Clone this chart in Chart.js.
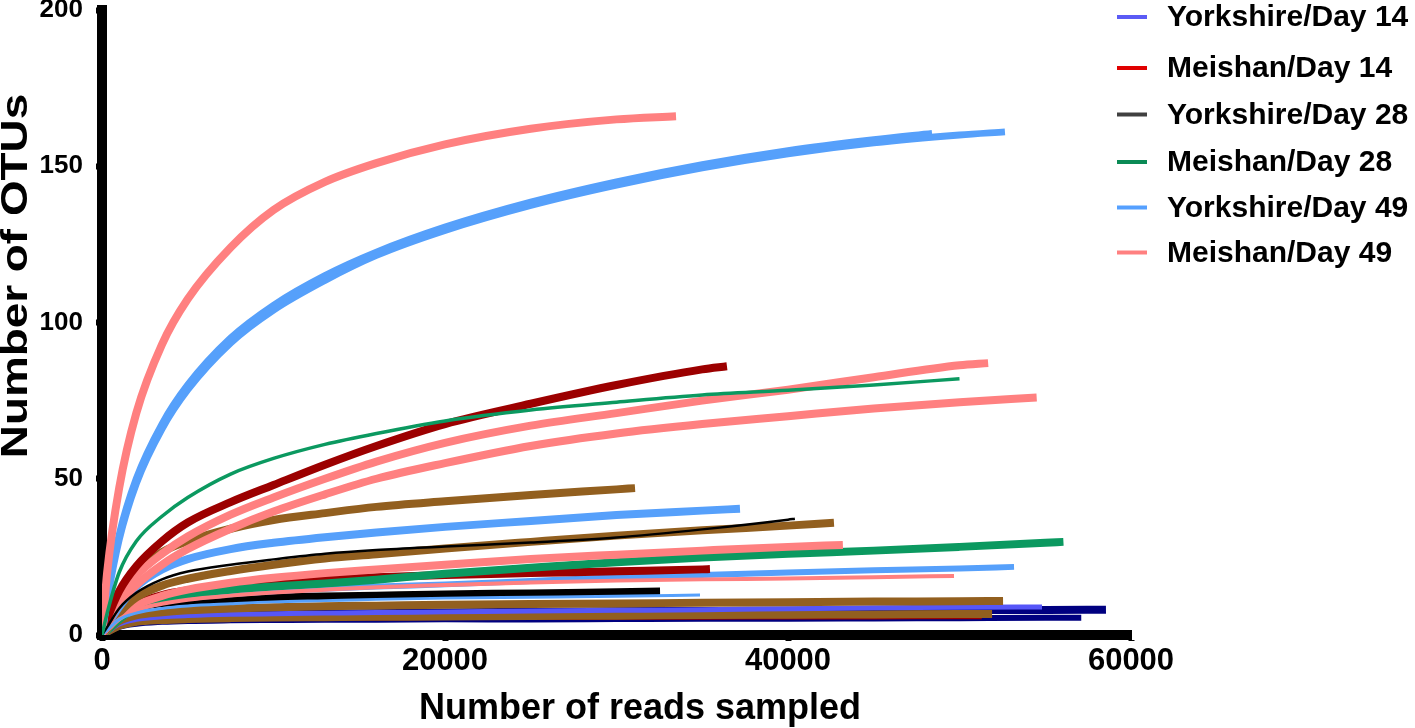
<!DOCTYPE html>
<html>
<head>
<meta charset="utf-8">
<script src="https://cdn.jsdelivr.net/npm/chart.js@4.4.1/dist/chart.umd.min.js"></script>
<style>
html,body{margin:0;padding:0;background:#ffffff;}
#wrap{position:relative;width:1415px;height:728px;}
</style>
</head>
<body>
<div id="wrap"><canvas id="c" width="1415" height="728"></canvas></div>
<script>
// ---- data ----
const depthGrid = [0, 300, 1000, 2000, 3500, 5000, 7500, 10000, 13000, 16000, 20000, 25000, 30000, 35000, 40000, 45000, 50000, 55000];

// each curve: OTU values at depthGrid points below its last depth, then the value at its last depth
const meishanD49a = [0, 20, 47, 71, 93, 107.5, 124, 136, 145, 151, 157, 162, 165, 166];
const meishanD49aEnd = 33470;
const yorkshireD49a = [0, 12, 32, 50, 67.5, 80, 95, 105.5, 115, 122.5, 130.5, 138.5, 145, 150.5, 155, 158.5, 160.5];
const yorkshireD49aEnd = 48400;
const yorkshireD49b = [0, 11, 30.5, 48.5, 66, 78.5, 93.5, 104, 113.5, 121.5, 129.5, 137.5, 144, 149.5, 154, 157.5, 160, 161];
const yorkshireD49bEnd = 52650;
const meishanD14a = [0, 5, 14, 22, 30, 36, 42.5, 48, 54.5, 60.5, 67.5, 74, 80, 85, 86];
const meishanD14aEnd = 36440;
const meishanD28a = [0, 7, 20, 30, 38, 44, 51.5, 56.5, 61, 64.5, 68.5, 72, 74.5, 76.8, 78.3, 80, 82];
const meishanD28aEnd = 50000;
const meishanD49b = [0, 4, 12, 19, 26, 31.5, 38.5, 44, 50, 55.5, 61.5, 67, 71, 75, 78.5, 82.5, 86.3, 87];
const meishanD49bEnd = 51670;
const meishanD49c = [0, 3.5, 10, 16, 22.5, 27.5, 34, 39.5, 45, 50, 55, 60.5, 64.5, 67.5, 70, 72.5, 74.5, 76];
const meishanD49cEnd = 54500;
const brownA = [0, 3, 12, 20, 26.5, 30, 34, 36.8, 39, 41, 42.8, 44.8, 46.6, 47];
const brownAEnd = 31080;
const yorkshireD49c = [0, 3, 9, 15.5, 21, 24.3, 27.5, 29.5, 31.3, 32.8, 34.6, 36.5, 38.4, 39.8, 40.4];
const yorkshireD49cEnd = 37200;
const yorkshireD28a = [0, 2.5, 8.5, 13.5, 17.8, 20.3, 22.5, 24.2, 26, 27.2, 28.3, 29.6, 31.2, 33.8, 36.9, 37.2];
const yorkshireD28aEnd = 40400;
const brownB = [0, 2, 7, 12, 15.8, 18, 20.5, 22.5, 24.5, 25.8, 27.7, 29.8, 31.8, 33.5, 35, 35.9];
const brownBEnd = 42680;
const meishanD49d = [0, 2, 6, 9.5, 12.5, 14.5, 16.7, 18.3, 19.8, 21, 22.5, 24.3, 25.7, 27, 28.2, 28.8];
const meishanD49dEnd = 43200;
const meishanD28b = [0, 1.5, 5, 9, 11.5, 13, 14.5, 15.5, 16.5, 17.7, 19.6, 21.5, 23.3, 24.8, 26, 27, 28.2, 29.5, 29.8];
const meishanD28bEnd = 56060;
const meishanD14b = [0, 2, 6.5, 10, 12.8, 14.3, 15.8, 16.8, 17.8, 18.5, 19.2, 19.8, 20.4, 21, 21.1];
const meishanD14bEnd = 35450;
const yorkshireD49d = [0, 1.5, 5, 8, 10.5, 11.8, 13, 14, 14.8, 15.5, 16.2, 17.3, 18.5, 19.2, 20, 20.7, 21.3, 21.8];
const yorkshireD49dEnd = 53180;
const meishanD49e = [0, 1.5, 5, 8, 10, 11.3, 12.6, 13.6, 14.5, 15.3, 16, 16.8, 17.4, 17.8, 18.1, 18.5, 18.9];
const meishanD49eEnd = 49680;
const yorkshireD28b = [0, 2, 7, 9, 10.2, 10.9, 11.5, 12, 12.3, 12.6, 13, 13.3, 13.7, 13.9];
const yorkshireD28bEnd = 32540;
const yorkshireD49e = [0, 1.5, 5, 7, 8.5, 9.3, 10, 10.6, 11, 11.4, 11.8, 12.1, 12.4, 12.8];
const yorkshireD49eEnd = 34870;
const brownC = [0, 1.5, 4.5, 6.3, 7.3, 7.9, 8.5, 8.9, 9.2, 9.4, 9.7, 9.9, 10.1, 10.3, 10.5, 10.7, 10.8, 10.9];
const brownCEnd = 52540;
const yorkshireD14a = [0, 1, 3.5, 5, 5.8, 6.2, 6.6, 6.8, 7, 7.2, 7.4, 7.7, 7.9, 8.1, 8.4, 8.7, 8.9, 9];
const yorkshireD14aEnd = 54810;
const navyA = [0, 1, 3.3, 4.8, 5.6, 6, 6.4, 6.6, 6.8, 7, 7.2, 7.4, 7.6, 7.7, 7.8, 7.9, 8, 8, 8.1];
const navyAEnd = 58540;
const brownD = [0, 1, 3, 4.2, 4.8, 5.1, 5.4, 5.6, 5.7, 5.8, 5.9, 6.1, 6.2, 6.4, 6.5, 6.6, 6.7, 6.7];
const brownDEnd = 51900;
const navyB = [0, 0.8, 2.6, 3.6, 4.2, 4.5, 4.7, 4.8, 4.9, 4.9, 5, 5, 5.1, 5.2, 5.2, 5.3, 5.4, 5.5, 5.5];
const navyBEnd = 57100;
const meishanD14c = [0, 0.8, 2.6, 3.7, 4.3, 4.6, 4.8, 4.9, 5, 5, 5.1, 5.1, 5.2, 5.2, 5.3, 5.3, 5.4, 5.4];
const meishanD14cEnd = 51300;

const legendLabels = ['Yorkshire/Day 14', 'Meishan/Day 14', 'Yorkshire/Day 28', 'Meishan/Day 28', 'Yorkshire/Day 49', 'Meishan/Day 49'];
const xTickValues = [0, 20000, 40000, 60000];
const yTickValues = [0, 50, 100, 150, 200];
const xTitle = 'Number of reads sampled';
const yTitle = 'Number of OTUs';

// ---- styles ----
const C = {
  pink: '#ff8080', lblue: '#56a0fb', dred: '#9c0000', green: '#0b9960',
  brown: '#925f1f', black: '#000000', navy: '#000080', mblue: '#5656f8'
};
const legendColors = ['#5b5bf5', '#e00000', '#404040', '#0a8a55', '#55a0ff', '#ff8080'];
const legendRowY = [17, 68, 114.5, 162, 207.5, 252.5];

function curve(vals, end) {
  const n = depthGrid.filter(d => d < end).length;
  const pts = [];
  for (let i = 0; i < n; i++) pts.push({ x: depthGrid[i], y: vals[i] });
  pts.push({ x: end, y: vals[vals.length - 1] });
  return pts;
}

// listed top-most first (Chart.js draws dataset 0 last)
const curveSpecs = [
  [meishanD28a, meishanD28aEnd, C.green, 3.5],
  [yorkshireD28a, yorkshireD28aEnd, C.black, 2.5],
  [yorkshireD49e, yorkshireD49eEnd, C.lblue, 3],
  [meishanD49e, meishanD49eEnd, C.pink, 4],
  [meishanD49a, meishanD49aEnd, C.pink, 8],
  [yorkshireD49a, yorkshireD49aEnd, C.lblue, 7],
  [yorkshireD49b, yorkshireD49bEnd, C.lblue, 7],
  [meishanD14a, meishanD14aEnd, C.dred, 8],
  [meishanD49b, meishanD49bEnd, C.pink, 8],
  [meishanD49c, meishanD49cEnd, C.pink, 8],
  [brownA, brownAEnd, C.brown, 8],
  [yorkshireD49c, yorkshireD49cEnd, C.lblue, 8],
  [brownB, brownBEnd, C.brown, 8],
  [meishanD49d, meishanD49dEnd, C.pink, 8],
  [meishanD28b, meishanD28bEnd, C.green, 8],
  [meishanD14b, meishanD14bEnd, C.dred, 8],
  [yorkshireD49d, yorkshireD49dEnd, C.lblue, 6],
  [yorkshireD28b, yorkshireD28bEnd, C.black, 8],
  [brownC, brownCEnd, C.brown, 8],
  [yorkshireD14a, yorkshireD14aEnd, C.mblue, 5],
  [brownD, brownDEnd, C.brown, 8],
  [meishanD14c, meishanD14cEnd, C.dred, 2],
  [navyA, navyAEnd, C.navy, 8],
  [navyB, navyBEnd, C.navy, 6]
];

const datasets = curveSpecs.map((s, i) => ({
  label: 'curve' + i,
  data: curve(s[0], s[1]),
  borderColor: s[2],
  backgroundColor: s[2],
  borderWidth: s[3],
  pointRadius: 0,
  pointHoverRadius: 0,
  fill: false,
  cubicInterpolationMode: 'monotone',
  borderCapStyle: 'butt',
  borderJoinStyle: 'round'
}));

const FONT = '"Liberation Sans", Arial, Helvetica, sans-serif';

const sideLegendAndTitles = {
  id: 'sideLegendAndTitles',
  afterDraw(chart) {
    const ctx = chart.ctx;
    const area = chart.chartArea;
    const x0 = area.right - 14;
    ctx.save();
    ctx.font = 'bold 30px ' + FONT;
    ctx.textBaseline = 'middle';
    ctx.textAlign = 'left';
    legendLabels.forEach((lab, i) => {
      const y = legendRowY[i];
      ctx.strokeStyle = legendColors[i];
      ctx.lineWidth = 4;
      ctx.lineCap = 'butt';
      ctx.beginPath();
      ctx.moveTo(x0, y);
      ctx.lineTo(x0 + 30, y);
      ctx.stroke();
      ctx.fillStyle = '#000';
      ctx.fillText(lab, x0 + 50, y + 1);
    });
    ctx.restore();

    // axis titles
    ctx.save();
    ctx.fillStyle = '#000';
    ctx.font = 'bold 36px ' + FONT;
    ctx.textAlign = 'center';
    ctx.textBaseline = 'alphabetic';
    ctx.fillText(xTitle, area.left + 538, 719);
    ctx.restore();

    ctx.save();
    ctx.fillStyle = '#000';
    ctx.font = 'bold 37px ' + FONT;
    ctx.textAlign = 'center';
    ctx.textBaseline = 'middle';
    ctx.translate(17, area.top + 266);
    ctx.rotate(-Math.PI / 2);
    ctx.scale(1.24, 1);
    ctx.fillText(yTitle, 0, 0);
    ctx.restore();
  }
};

new Chart(document.getElementById('c'), {
  type: 'line',
  data: { datasets },
  plugins: [sideLegendAndTitles],
  options: {
    responsive: false,
    devicePixelRatio: 1,
    animation: false,
    events: [],
    layout: { padding: { top: 10, right: 284, left: 0, bottom: 0 } },
    plugins: { legend: { display: false }, tooltip: { enabled: false } },
    scales: {
      x: {
        type: 'linear', min: 0, max: 60000,
        afterBuildTicks: s => { s.ticks = xTickValues.map(v => ({ value: v })); },
        afterFit: s => { s.height = 93; s.paddingLeft = 0; s.paddingRight = 0; },
        ticks: { color: '#000', font: { family: FONT, size: 31, weight: 'bold' }, padding: 2, maxRotation: 0, callback: v => String(v) },
        grid: { drawOnChartArea: false, drawTicks: true, tickLength: 6, tickWidth: 6, color: '#000' },
        border: { display: true, width: 10, color: '#000' },
        title: { display: false, text: xTitle }
      },
      y: {
        type: 'linear', min: 0, max: 200,
        afterBuildTicks: s => { s.ticks = yTickValues.map(v => ({ value: v })); },
        afterFit: s => { s.width = 102; s.paddingTop = 0; s.paddingBottom = 0; },
        ticks: { color: '#000', font: { family: FONT, size: 26, weight: 'bold' }, padding: 13, callback: v => String(v) },
        grid: { drawOnChartArea: false, drawTicks: true, tickLength: 6, tickWidth: 6, color: '#000' },
        border: { display: true, width: 10, color: '#000' },
        title: { display: false, text: yTitle }
      }
    }
  }
});
</script>
</body>
</html>
